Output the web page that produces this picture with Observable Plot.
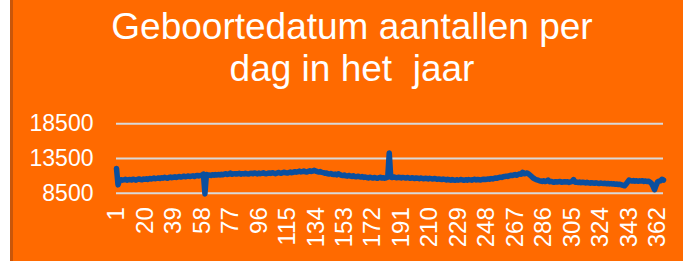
<!DOCTYPE html>
<html><head><meta charset="utf-8">
<script src="https://cdn.jsdelivr.net/npm/d3@7"></script>
<script src="https://cdn.jsdelivr.net/npm/@observablehq/plot@0.6"></script>
<style>
html,body{margin:0;padding:0;background:#fff;}
#wrap{position:relative;width:683px;height:261px;background:#ff6a00;overflow:hidden;}
#strip{position:absolute;left:0;top:0;width:10px;height:261px;background:#fff;}
#edge{position:absolute;left:10px;top:0;width:3px;height:261px;background:#c9560a;}
#title{position:absolute;left:0;top:6px;width:704px;text-align:center;color:#fff;font-family:"Liberation Sans",Arial,sans-serif;font-size:37px;line-height:42px;}
#plot{position:absolute;left:0;top:100px;}
</style></head><body>
<div id="wrap">
<div id="strip"></div><div id="edge"></div>
<div id="title">Geboortedatum aantallen per<br>dag in het&nbsp; jaar</div>
<div id="plot"></div>
</div>
<script>
const titleText = "Geboortedatum aantallen per dag in het  jaar";
const counts = [
12050, 9700, 10350, 10450, 10380, 10420, 10500, 10360, 10440, 10480,
10400, 10520, 10450, 10380, 10500, 10560, 10470, 10430, 10550, 10500,
10580, 10490, 10620, 10550, 10600, 10680, 10590, 10640, 10700, 10620,
10720, 10660, 10780, 10700, 10650, 10760, 10820, 10740, 10800, 10860,
10780, 10850, 10900, 10820, 10880, 10950, 10870, 10920, 10980, 10900,
10960, 11000, 10920, 11020, 11060, 10980, 11050, 11100, 11250, 8400,
11200, 11080, 11120, 11050, 11160, 11100, 11180, 11120, 11200, 11140,
11220, 11160, 11240, 11300, 11200, 11260, 11400, 11230, 11280, 11320,
11250, 11300, 11380, 11240, 11320, 11280, 11360, 11300, 11250, 11340,
11380, 11300, 11420, 11350, 11280, 11400, 11320, 11360, 11440, 11340,
11300, 11380, 11420, 11350, 11460, 11380, 11320, 11400, 11480, 11420,
11380, 11460, 11520, 11430, 11400, 11480, 11550, 11460, 11520, 11600,
11530, 11580, 11680, 11560, 11620, 11700, 11600, 11560, 11650, 11720,
11640, 11700, 11800, 11680, 11600, 11540, 11620, 11500, 11460, 11380,
11420, 11300, 11260, 11340, 11220, 11180, 11250, 11140, 11300, 11180,
11080, 11040, 11120, 11000, 10960, 11060, 10980, 10920, 11020, 10900,
10860, 10950, 10880, 10820, 10900, 10780, 10840, 10760, 10700, 10800,
10740, 10680, 10760, 10700, 10640, 10720, 10800, 10680, 10740, 10660,
10720, 10800, 14300, 10820, 10760, 10840, 10780, 10720, 10800, 10760,
10700, 10780, 10740, 10680, 10760, 10700, 10640, 10720, 10680, 10620,
10700, 10660, 10600, 10680, 10640, 10580, 10660, 10620, 10560, 10640,
10600, 10540, 10620, 10580, 10500, 10560, 10520, 10460, 10540, 10480,
10420, 10500, 10440, 10380, 10460, 10400, 10360, 10440, 10380, 10420,
10480, 10400, 10360, 10440, 10380, 10460, 10420, 10380, 10460, 10500,
10420, 10480, 10440, 10400, 10480, 10520, 10460, 10500, 10560, 10520,
10600, 10560, 10640, 10700, 10660, 10740, 10800, 10780, 10860, 10900,
10960, 10920, 11000, 11080, 11040, 11120, 11180, 11100, 11200, 11280,
11240, 11500, 11300, 11340, 11420, 11260, 11100, 10900, 10700, 10560,
10450, 10400, 10320, 10260, 10200, 10300, 10180, 10240, 10400, 10160,
10200, 10120, 10080, 10160, 10100, 10140, 10180, 10080, 10120, 10160,
10100, 10140, 10060, 10120, 10200, 10450, 10080, 10120, 10040, 10100,
10020, 10080, 10040, 9980, 10060, 10000, 9940, 10020, 9960, 9920,
10000, 9940, 9900, 9960, 9920, 9880, 9940, 9860, 9900, 9840,
9880, 9820, 9860, 9780, 9820, 9740, 9780, 9700, 9620, 9560,
9800, 10100, 10400, 10300, 10260, 10320, 10240, 10300, 10220, 10280,
10240, 10300, 10200, 10260, 10180, 10220, 10100, 9900, 9500, 9000,
9600, 10100, 10250, 10300, 10500, 10400
];
const xTicks = [1, 20, 39, 58, 77, 96, 115, 134, 153, 172, 191, 210, 229, 248, 267, 286, 305, 324, 343, 362];
const yTicks = [8500, 13500, 18500];

const data = counts.map((c, i) => ({day: i + 1, count: c}));

const chart = Plot.plot({
  width: 683,
  height: 161,
  marginLeft: 116,
  marginRight: 20,
  marginTop: 23.3,
  marginBottom: 68.3,
  style: {background: "transparent", color: "#fff", fontFamily: '"Liberation Sans", Arial, sans-serif'},
  x: {domain: [1, 366]},
  y: {domain: [8500, 18500]},
  marks: [
    Plot.ruleY(yTicks, {stroke: "#d9d9d9", strokeWidth: 2}),
    Plot.axisY({ticks: yTicks, tickSize: 0, tickPadding: 23, fontSize: 23, tickFormat: d => String(d), label: null}),
    Plot.axisX({ticks: xTicks, tickSize: 0, tickPadding: 14, tickRotate: -90, fontSize: 24, tickFormat: d => String(d), label: null}),
    Plot.line(data, {x: "day", y: "count", stroke: "#0b4f9e", strokeWidth: 5.5, strokeLinejoin: "round", strokeLinecap: "round"})
  ]
});
document.getElementById("plot").appendChild(chart);
</script>
</body></html>
